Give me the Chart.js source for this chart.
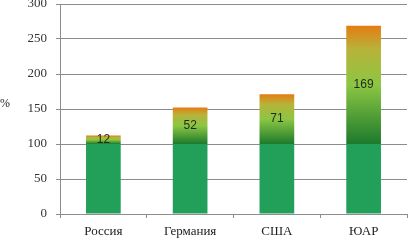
<!DOCTYPE html>
<html>
<head>
<meta charset="utf-8">
<script src="https://cdn.jsdelivr.net/npm/chart.js@4"></script>
<style>
  html, body { margin: 0; padding: 0; background: #fff; }
  #wrap { width: 408px; height: 244px; }
</style>
</head>
<body>
<div id="wrap"><canvas id="growthChart" width="408" height="244"></canvas></div>
<script>
const countries = ['Россия', 'Германия', 'США', 'ЮАР'];
const baseValues = [100, 100, 100, 100];
const extraValues = [12, 52, 71, 169];
const yTicks = [0, 50, 100, 150, 200, 250, 300];

function extraGradient(context) {
    const chart = context.chart;
    const area = chart.chartArea;
    if (!area) return null;
    const y = chart.scales.y;
    const i = context.dataIndex;
    const bottom = y.getPixelForValue(baseValues[i]);
    const top = y.getPixelForValue(baseValues[i] + extraValues[i]);
    const g = chart.ctx.createLinearGradient(0, bottom, 0, top);
    g.addColorStop(0, '#1c7a2c');
    g.addColorStop(0.5, '#8cc643');
    g.addColorStop(0.8, '#b7b33a');
    g.addColorStop(1, '#e57c12');
    return g;
}

const extraLabels = {
    id: 'extraLabels',
    afterDatasetsDraw(chart) {
        const ctx = chart.ctx;
        const meta = chart.getDatasetMeta(1);
        ctx.save();
        ctx.font = '12px "Liberation Sans", Arial, sans-serif';
        ctx.fillStyle = '#1d2b1d';
        ctx.textAlign = 'center';
        ctx.textBaseline = 'middle';
        meta.data.forEach((bar, i) => {
            const mid = (bar.y + bar.base) / 2;
            ctx.fillText(String(extraValues[i]), bar.x, mid);
        });
        ctx.restore();
    }
};

const percentLabel = {
    id: 'percentLabel',
    afterDraw(chart) {
        const ctx = chart.ctx;
        ctx.save();
        ctx.font = '12px "Liberation Serif", "Times New Roman", serif';
        ctx.fillStyle = '#222';
        ctx.textAlign = 'left';
        ctx.textBaseline = 'middle';
        ctx.fillText('%', 0, 104);
        ctx.restore();
    }
};

new Chart(document.getElementById('growthChart'), {
    type: 'bar',
    data: {
        labels: countries,
        datasets: [{
            data: baseValues,
            backgroundColor: '#22a05a',
            borderWidth: 0,
            barPercentage: 0.4,
            categoryPercentage: 1
        }, {
            data: extraValues,
            backgroundColor: extraGradient,
            borderWidth: 0,
            barPercentage: 0.4,
            categoryPercentage: 1
        }]
    },
    options: {
        responsive: false,
        animation: false,
        layout: { padding: { top: 4, right: 1, left: 0, bottom: 0 } },
        plugins: {
            legend: { display: false },
            tooltip: { enabled: false }
        },
        scales: {
            x: {
                stacked: true,
                afterFit(scale) { scale.height = 30; },
                grid: {
                    offset: true,
                    drawOnChartArea: false,
                    drawTicks: true,
                    tickLength: 4,
                    color: '#8c8c8c'
                },
                border: { color: '#8c8c8c' },
                ticks: {
                    color: '#222',
                    padding: 6,
                    font: { family: '"Liberation Serif", "Times New Roman", serif', size: 13 }
                }
            },
            y: {
                stacked: true,
                min: 0,
                max: 300,
                afterFit(scale) {
                    scale.width = 60;
                    scale.paddingTop = 0;
                    scale.paddingBottom = 0;
                },
                afterBuildTicks(scale) {
                    scale.ticks = yTicks.map(v => ({ value: v }));
                },
                grid: {
                    color: '#8c8c8c',
                    tickLength: 4
                },
                border: { color: '#8c8c8c' },
                ticks: {
                    color: '#333',
                    padding: 9,
                    font: { family: '"Liberation Serif", "Times New Roman", serif', size: 13 }
                }
            }
        }
    },
    plugins: [extraLabels, percentLabel]
});
</script>
</body>
</html>
